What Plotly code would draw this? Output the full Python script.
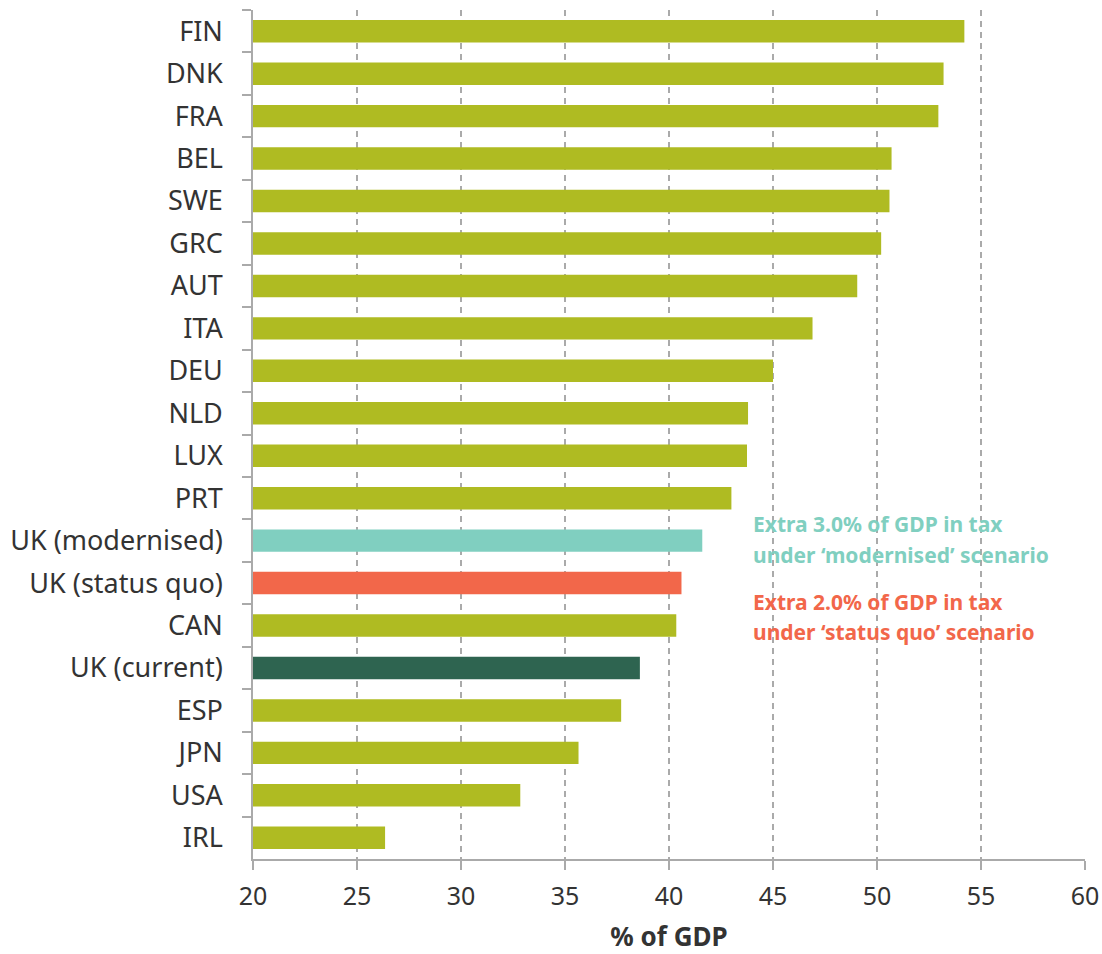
import plotly.graph_objects as go

countries = ["FIN", "DNK", "FRA", "BEL", "SWE", "GRC", "AUT", "ITA", "DEU", "NLD",
             "LUX", "PRT", "UK (modernised)", "UK (status quo)", "CAN", "UK (current)",
             "ESP", "JPN", "USA", "IRL"]
tax_pct_gdp = [54.2, 53.2, 52.95, 50.7, 50.6, 50.2, 49.05, 46.9, 45.0, 43.8,
               43.75, 43.0, 41.6, 40.6, 40.35, 38.6, 37.7, 35.65, 32.85, 26.35]

OLIVE = "#AFBB22"
TEAL = "#80CFC0"
ORANGE = "#F2674A"
DARK = "#2E6450"
special = {"UK (modernised)": TEAL, "UK (status quo)": ORANGE, "UK (current)": DARK}
colors = [special.get(c, OLIVE) for c in countries]

note_modern = ["Extra 3.0% of GDP in tax", "under \u2018modernised\u2019 scenario"]
note_sq = ["Extra 2.0% of GDP in tax", "under \u2018status quo\u2019 scenario"]

fig = go.Figure()
fig.add_trace(go.Bar(
    x=tax_pct_gdp, y=countries, orientation="h",
    marker=dict(color=colors, line=dict(width=0)),
    width=0.53, base=0,
))

FONT = "Noto Sans"
annos = []
for text, yv, col in [(note_modern[0], 11.6, TEAL), (note_modern[1], 12.33, TEAL),
                      (note_sq[0], 13.44, ORANGE), (note_sq[1], 14.15, ORANGE)]:
    annos.append(dict(x=43.94, y=yv, xref="x", yref="y", text=f"<b>{text}</b>",
                      showarrow=False, xanchor="left", yanchor="middle",
                      font=dict(family=FONT, size=21, color=col)))

fig.update_layout(
    width=1102, height=954,
    margin=dict(l=253, r=17, t=10, b=95),
    plot_bgcolor="white", paper_bgcolor="white",
    showlegend=False,
    bargap=0.47,
    font=dict(family=FONT, color="#333333"),
    annotations=annos,
    xaxis=dict(
        range=[20, 60], dtick=5, tick0=20,
        automargin=False,
        showgrid=True, gridcolor="#AAAAAA", griddash="6px,5px", gridwidth=1.5,
        zeroline=False,
        showline=True, linecolor="#AAAAAA", linewidth=2,
        ticks="outside", ticklen=9, tickcolor="#AAAAAA", tickwidth=1.5,
        tickfont=dict(family=FONT, size=25, color="#333333"),
        ticklabelstandoff=5,
        title=dict(text="<b>% of GDP</b>", font=dict(family=FONT, size=26, color="#333333"),
                   standoff=22),
    ),
    yaxis=dict(
        categoryorder="array", categoryarray=countries,
        autorange="reversed",
        automargin=False,
        showgrid=False, zeroline=False,
        showline=True, linecolor="#AAAAAA", linewidth=1.5,
        ticks="outside", ticklen=9, tickcolor="#AAAAAA", tickwidth=1.5,
        tickson="boundaries",
        tickfont=dict(family=FONT, size=27, color="#333333"),
        ticklabelstandoff=23,
    ),
)

fig.write_html("out.html")
